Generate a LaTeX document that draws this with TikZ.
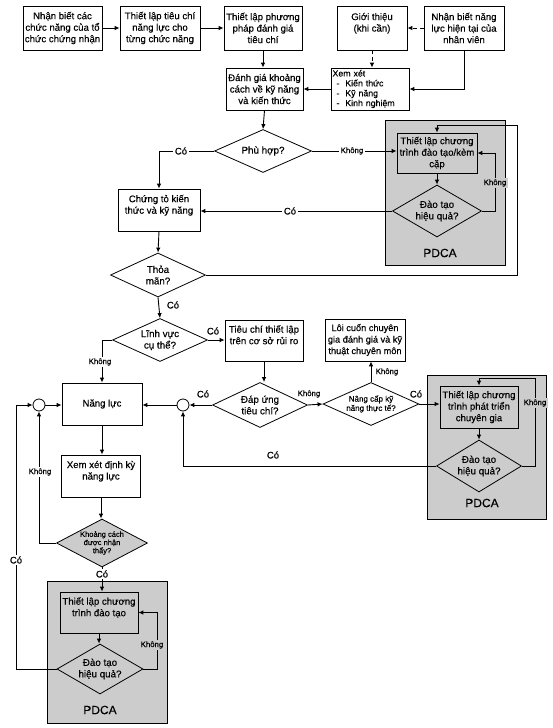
\documentclass[tikz,border=0pt]{standalone}
\usepackage{fontspec}
\setmainfont{Liberation Sans}[FakeBold=0.3]
\usetikzlibrary{arrows.meta,shapes.geometric,calc}
\definecolor{pd}{gray}{0.80}
\begin{document}
\begin{tikzpicture}[x=1pt,y=-1pt,
 box/.style={draw, line width=0.8pt, fill=white, align=center, inner sep=1pt, font=\fontsize{9.6}{11.5}\selectfont},
 sbox/.style={box, fill=pd},
 dia/.style={draw, diamond, line width=0.8pt, fill=white, inner sep=0pt, align=center, font=\fontsize{9.8}{11.5}\selectfont},
 arr/.style={-{Latex[length=5pt,width=4.5pt]}, line width=0.9pt},
 darr/.style={arr, dashed, dash pattern=on 4pt off 3pt},
 yes/.style={font=\fontsize{9.5}{11}\selectfont, inner sep=1.5pt},
 no/.style={font=\fontsize{7.8}{9}\selectfont, inner sep=1.5pt},
 pdbg/.style={draw, line width=0.8pt, fill=pd, inner sep=0pt},
 pdl/.style={font=\fontsize{12}{14}\selectfont, inner sep=0pt},
 circ/.style={draw, circle, line width=0.8pt, minimum size=12pt, inner sep=0pt, fill=white}
]
\fill[white] (0,0) rectangle (553,728);
\useasboundingbox (0,0) rectangle (553,728);

% PDCA backgrounds
\node[pdbg, minimum width=120pt, minimum height=145pt] (p1) at (445,192.5) {};
\node[pdl] (p1l) at (440,253) {PDCA};
\node[pdbg, minimum width=119pt, minimum height=144pt] (p2) at (486.5,447) {};
\node[pdl] (p2l) at (482,503) {PDCA};
\node[pdbg, minimum width=120pt, minimum height=142pt] (p3) at (107,652) {};
\node[pdl] (p3l) at (100,710) {PDCA};

% top row
\node[box, minimum width=79pt, minimum height=44pt] (b1) at (62.5,28) {Nhận biết các\\chức năng của tổ\\chức chứng nhận};
\node[box, minimum width=80pt, minimum height=44pt] (b2) at (160,28) {Thiết lập tiêu chí\\năng lực cho\\từng chức năng};
\node[box, minimum width=78pt, minimum height=44pt] (b3) at (263,28) {Thiết lập phương\\pháp đánh giá\\tiêu chí};
\node[box, minimum width=70pt, minimum height=44pt] (b4) at (372,28) {Giới thiệu\\(khi cần)\\\mbox{}};
\node[box, minimum width=80pt, minimum height=44pt] (b5) at (464,28) {Nhận biết năng\\lực hiện tại của\\nhân viên};

\node[box, minimum width=77pt, minimum height=42pt] (dg) at (264.5,89) {Đánh giá khoảng\\cách về kỹ năng\\và kiến thức};
\node[box, minimum width=78pt, minimum height=42pt, text width=75pt, align=left, inner sep=1.5pt, font=\fontsize{8.8}{9.9}\selectfont] (xx) at (370,89) {Xem xét\\\hspace*{4pt}-\ \ Kiến thức\\\hspace*{4pt}-\ \ Kỹ năng\\\hspace*{4pt}-\ \ Kinh nghiệm};

\node[dia, minimum width=97pt, minimum height=43pt, aspect=2.25] (ph) at (263,151) {Phù hợp?};
\node[sbox, minimum width=80pt, minimum height=40pt] (i1) at (437,153) {Thiết lập chương\\trình đào tạo/kèm\\cặp};
\node[dia, fill=pd, minimum width=89pt, minimum height=52pt, aspect=1.71] (d1) at (437,211) {Đào tạo\\hiệu quả?};
\node[box, minimum width=82pt, minimum height=42pt] (ct) at (159,210) {Chứng tỏ kiến\\thức và kỹ năng\\\mbox{}};
\node[dia, minimum width=95pt, minimum height=44pt, aspect=2.15] (tm) at (158,275) {Thỏa\\mãn?};
\node[dia, minimum width=95pt, minimum height=43pt, aspect=2.2] (lv) at (160,340) {Lĩnh vực\\cụ thể?};
\node[box, minimum width=78pt, minimum height=41pt] (tc) at (264,340.5) {Tiêu chí thiết lập\\trên cơ sở rủi ro\\\mbox{}};
\node[dia, minimum width=95pt, minimum height=45pt, aspect=2.1] (du) at (260,405) {Đáp ứng\\tiêu chí?};
\node[dia, minimum width=96pt, minimum height=43pt, aspect=2.23, font=\fontsize{8}{9.3}\selectfont] (nc) at (371,404) {Nâng cấp kỹ\\năng thực tế?};
\node[box, minimum width=80pt, minimum height=42pt, font=\fontsize{9.2}{11.5}\selectfont] (lc) at (365,340) {Lôi cuốn chuyên\\gia đánh giá và kỹ\\thuật chuyên môn};
\node[sbox, minimum width=78pt, minimum height=42pt] (i2) at (479,407) {Thiết lập chương\\trình phát triển\\chuyên gia};
\node[dia, fill=pd, minimum width=85pt, minimum height=52pt, aspect=1.63] (d2) at (479,466) {Đào tạo\\hiệu quả?};

\node[box, minimum width=80pt, minimum height=42pt] (nl) at (102,404) {Năng lực};
\node[circ] (cR) at (183,405) {};
\node[circ] (cL) at (39,405) {};
\node[box, minimum width=79pt, minimum height=42pt] (xd) at (101,476) {Xem xét định kỳ\\năng lực\\\mbox{}};
\node[dia, fill=pd, minimum width=91pt, minimum height=48pt, aspect=1.9, font=\fontsize{7.5}{8.2}\selectfont] (kc) at (102,543) {Khoảng cách\\được nhận\\thấy?};
\node[sbox, minimum width=78pt, minimum height=41pt] (i3) at (99,612.5) {Thiết lập chương\\trình đào tạo\\\mbox{}};
\node[dia, fill=pd, minimum width=86pt, minimum height=50pt, aspect=1.72] (d3) at (100,669) {Đào tạo\\hiệu quả?};

% coordinates
\coordinate (t1) at (517,125);
\coordinate (k1) at (495,211);
\coordinate (k2) at (535,466);
\coordinate (c3) at (16,669);

% connectors
\draw[arr] (b1) -- (b2);
\draw[arr] (b2) -- (b3);
\draw[darr] (b5.west) -- (b4.east);
\draw[darr] (b4.south) -- (b4.south |- xx.north);
\draw[arr] (b5.south) |- (xx.east);
\draw[arr] (xx.west) -- (dg.east);
\draw[arr] (b3.south) -- (b3.south |- dg.north);
\draw[arr] (dg.south) -- (ph.north);
\draw[arr] (ph.west) -| (ct.north);
\draw[arr] (ph.east) -- (ph.east -| i1.west);
\draw[arr] (i1.south) -- (d1.north);
\draw[arr] (d1.east) -- (k1) |- (i1.east);
\draw[arr] (d1.west) -- (d1.west -| ct.east);
\draw[arr] (ct.south) -- (tm.north);
\draw[arr] (tm.east) -| (t1) -| (i1.north);
\draw[arr] (tm.south) -- (lv.north);
\draw[arr] (lv.east) -- (lv.east -| tc.west);
\draw[arr] (lv.west) -| (nl.north);
\draw[arr] (tc.south) -- (tc.south |- du.north);
\draw[arr] (du.west) -- (cR.east);
\draw[arr] (cR.west) -- (cR.west -| nl.east);
\draw[arr] (du.east) -- (nc.west);
\draw[arr] (nc.north) -- (nc.north |- lc.south);
\draw[arr] (nc.east) -- (nc.east -| i2.west);
\draw[arr] (i2.south) -- (d2.north);
\draw[arr] (d2.east) -- (k2) |- ($(i2.north)+(0,-7)$) -- (i2.north);
\draw[arr] (d2.west) -| (cR.south);
\draw[arr] (cL.east) -- (cL.east -| nl.west);
\draw[arr] (nl.south) -- (nl.south |- xd.north);
\draw[arr] (xd.south) -- (xd.south |- kc.north);
\draw[arr] (kc.west) -| (cL.south);
\draw[arr] (kc.south) -- (kc.south |- i3.north);
\draw[arr] (i3.south) -- (i3.south |- d3.north);
\draw[arr] (d3.east) -- ++(14,0) |- (i3.east);
\draw[arr] (d3.west) -- (c3) |- (cL.west);

% labels
\node[yes, fill=white] (l1) at (181,151) {Có};
\node[no, fill=white] (l2) at (352,151) {Không};
\node[no, fill=pd] (l3) at (495,183) {Không};
\node[yes, fill=white] (l4) at (290,211) {Có};
\node[yes] (l5) at (173,305) {Có};
\node[yes] (l6) at (213,331) {Có};
\node[no, fill=white] (l7) at (100,362) {Không};
\node[yes] (l8) at (203,394) {Có};
\node[no] (l9) at (309,394) {Không};
\node[no] (l10) at (387,372) {Không};
\node[yes] (l11) at (416,394) {Có};
\node[no, fill=pd] (l12) at (535,403) {Không};
\node[yes] (l13) at (273,455) {Có};
\node[no, fill=white] (l14) at (40,472) {Không};
\node[yes, fill=white] (l15) at (102,574) {Có};
\node[no, fill=pd] (l16) at (152,645) {Không};
\node[yes, fill=white] (l17) at (16,560) {Có};
\end{tikzpicture}
\end{document}
